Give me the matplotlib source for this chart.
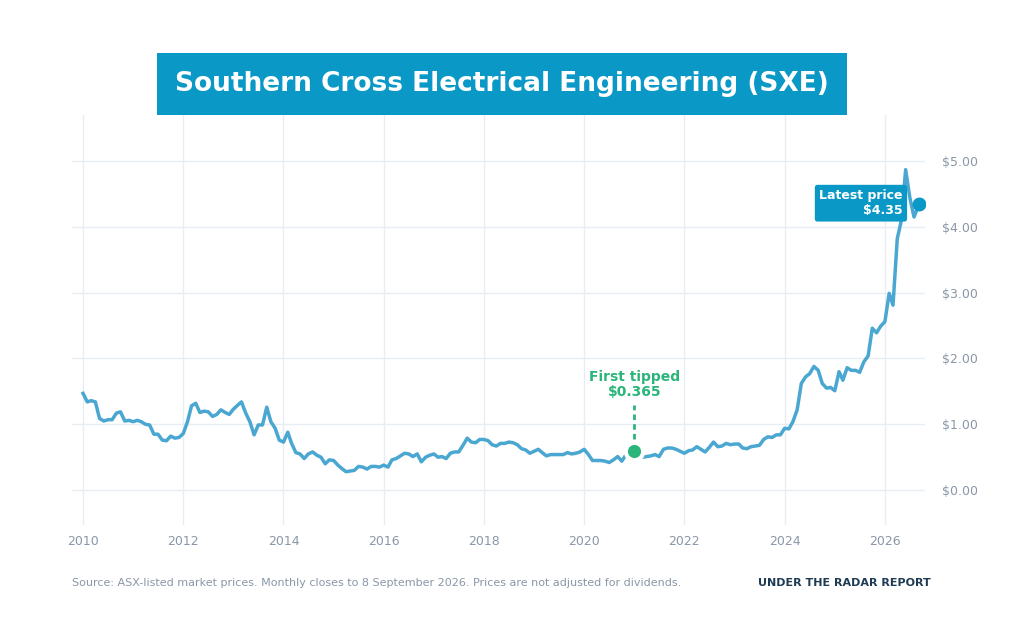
import numpy as np
import pandas as pd
import matplotlib
matplotlib.use("Agg")
import matplotlib.pyplot as plt
from matplotlib.patches import Rectangle
from matplotlib.ticker import FuncFormatter

# monthly closes, Jan 2010 .. Aug 2026
prices = [
    1.47, 1.34, 1.36, 1.34, 1.09, 1.05, 1.07, 1.07, 1.17, 1.19, 1.05, 1.06,  # 2010
    1.04, 1.06, 1.04, 1.00, 0.99, 0.85, 0.85, 0.76, 0.75, 0.82, 0.79, 0.80,  # 2011
    0.86, 1.04, 1.28, 1.32, 1.18, 1.20, 1.19, 1.12, 1.15, 1.22, 1.18, 1.15,  # 2012
    1.23, 1.29, 1.34, 1.17, 1.04, 0.84, 0.99, 0.99, 1.26, 1.04, 0.94, 0.76,  # 2013
    0.73, 0.88, 0.71, 0.57, 0.55, 0.48, 0.55, 0.58, 0.53, 0.50, 0.40, 0.46,  # 2014
    0.45, 0.38, 0.33, 0.28, 0.29, 0.30, 0.36, 0.35, 0.32, 0.36, 0.36, 0.35,  # 2015
    0.38, 0.35, 0.46, 0.48, 0.52, 0.56, 0.55, 0.51, 0.55, 0.43, 0.50, 0.53,  # 2016
    0.55, 0.50, 0.51, 0.48, 0.56, 0.58, 0.58, 0.68, 0.79, 0.73, 0.72, 0.77,  # 2017
    0.77, 0.75, 0.69, 0.67, 0.71, 0.71, 0.73, 0.72, 0.69, 0.63, 0.61, 0.56,  # 2018
    0.59, 0.62, 0.57, 0.52, 0.54, 0.54, 0.54, 0.54, 0.57, 0.55, 0.56, 0.58,  # 2019
    0.62, 0.54, 0.45, 0.45, 0.45, 0.44, 0.42, 0.46, 0.51, 0.44, 0.54, 0.57,  # 2020
    0.60, 0.55, 0.50, 0.51, 0.52, 0.54, 0.51, 0.62, 0.64, 0.64, 0.62, 0.59,  # 2021
    0.56, 0.60, 0.61, 0.66, 0.62, 0.58, 0.65, 0.73, 0.66, 0.67, 0.71, 0.69,  # 2022
    0.70, 0.70, 0.64, 0.63, 0.66, 0.67, 0.68, 0.77, 0.81, 0.80, 0.84, 0.84,  # 2023
    0.94, 0.93, 1.04, 1.22, 1.62, 1.72, 1.77, 1.88, 1.82, 1.62, 1.55, 1.56,  # 2024
    1.51, 1.80, 1.67, 1.86, 1.82, 1.82, 1.79, 1.95, 2.04, 2.46, 2.39, 2.49,  # 2025
    2.56, 2.99, 2.81, 3.82, 4.10, 4.87, 4.45, 4.15,                          # 2026
]
latest_date = "2026-09-08"
latest_price = 4.35
tip_date = "2021-01-01"
tip_label = "First tipped\n$0.365"

year_ticks = list(range(2010, 2027, 2))
price_ticks = [0, 1, 2, 3, 4, 5]

title = "Southern Cross Electrical Engineering (SXE)"
source = "Source: ASX-listed market prices. Monthly closes to 8 September 2026. Prices are not adjusted for dividends."
brand = "UNDER THE RADAR REPORT"

LINE = "#4aa7d1"
BOX = "#0a99c7"
GREEN = "#2bb57a"
GREY = "#8a97a8"
GRID = "#e7edf2"


def to_year(d):
    d = pd.Timestamp(d)
    start = pd.Timestamp(year=d.year, month=1, day=1)
    return d.year + (d - start).days / 365.0


dates = pd.date_range("2010-01-01", periods=len(prices), freq="MS")
x = np.array([to_year(d) for d in dates] + [to_year(latest_date)])
y = np.array(prices + [latest_price])

fig = plt.figure(figsize=(10.24, 6.42), dpi=100)
ax = fig.add_axes([72 / 1024, 117 / 642, 853 / 1024, 410 / 642])

ax.plot(x, y, color=LINE, lw=2.5, solid_joinstyle="round", zorder=3)

# first tipped marker with white halo and dotted leader
tip_x = to_year(tip_date)
tip_y = y[dates.get_loc(pd.Timestamp(tip_date))]
ax.plot([tip_x], [tip_y], "o", ms=12.5, color=GREEN, mec="white", mew=3, zorder=5)
ax.plot([tip_x, tip_x], [tip_y + 0.17, tip_y + 0.7], color=GREEN, lw=2,
        ls=(0, (2, 1.5)), zorder=4)
ax.text(tip_x, tip_y + 1.0, tip_label, color=GREEN, fontsize=10, fontweight="bold",
        ha="center", va="center", linespacing=1.1, zorder=6)

ax.plot([x[-1]], [y[-1]], "o", ms=9, color=BOX, zorder=5)
ax.text(x[-1] - 0.33, y[-1] + 0.01, f"Latest price\n${latest_price:.2f}", color="white",
        fontsize=9, fontweight="bold", ha="right", va="center", linespacing=1.2,
        zorder=6, bbox=dict(boxstyle="round,pad=0.35,rounding_size=0.2", fc=BOX, ec="none"))

ax.set_xlim(2009.78, 2026.8)
ax.set_ylim(-0.53, 5.7)
ax.set_xticks(year_ticks)
ax.set_yticks(price_ticks)
ax.yaxis.set_major_formatter(FuncFormatter(lambda v, p: f"${v:.2f}"))
ax.yaxis.tick_right()
ax.tick_params(length=0, labelsize=9, labelcolor=GREY, pad=12)
ax.tick_params(axis="x", pad=7)
ax.grid(True, color=GRID, lw=1)
ax.set_axisbelow(True)
for s in ax.spines.values():
    s.set_visible(False)

fig.patches.append(Rectangle((157 / 1024, 1 - 115 / 642), 690 / 1024, 62 / 642,
                             transform=fig.transFigure, fc=BOX, ec="none", zorder=10))
fig.text(502 / 1024, 1 - 84 / 642, title, color="white", fontsize=19, fontweight="bold",
         ha="center", va="center", zorder=11)

fig.text(72 / 1024, 1 - 583 / 642, source, color=GREY, fontsize=8, ha="left", va="center")
fig.text(931 / 1024, 1 - 583 / 642, brand, color="#1e3b53", fontsize=8, fontweight="bold",
         ha="right", va="center")

fig.savefig("out.png", dpi=100, facecolor="white")
